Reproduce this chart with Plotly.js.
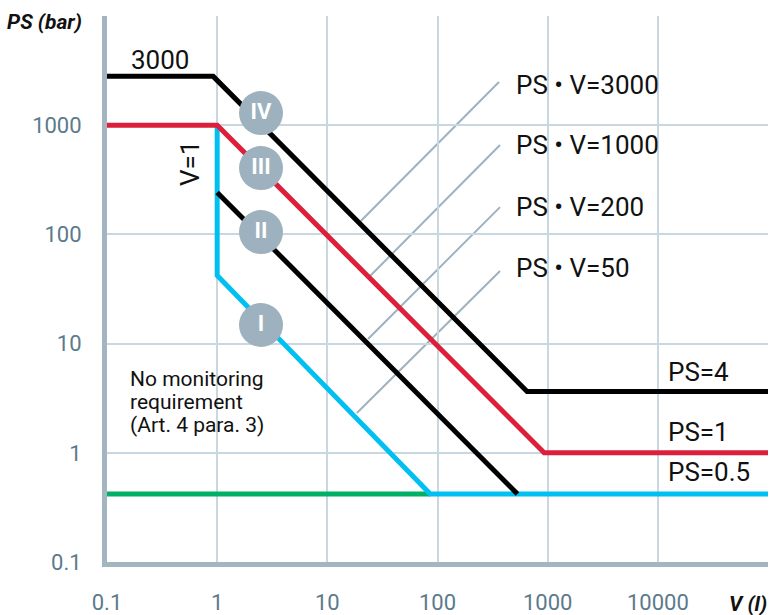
<!DOCTYPE html>
<html>
<head>
<meta charset="utf-8">
<script src="https://cdn.plot.ly/plotly-3.0.1.min.js"></script>
<style>
  html, body { margin: 0; padding: 0; background: #ffffff; }
  #chart { width: 769px; height: 615px; }
</style>
</head>
<body>
<div id="chart"></div>
<script>
// ---- data (V in litres, PS in bar) ----
const catIV_V  = [0.1, 0.92, 650, 100000];
const catIV_PS = [2800, 2800, 3.65, 3.65];

const catIII_V  = [0.1, 1, 930, 100000];
const catIII_PS = [1000, 1000, 1, 1];

const catII_V  = [1, 532];
const catII_PS = [242, 0.42];

const catI_V  = [1, 1, 86, 100000];
const catI_PS = [1000, 42, 0.42, 0.42];

const noMon_V  = [0.1, 86];
const noMon_PS = [0.42, 0.42];

const circleV      = [2.5, 2.5, 2.5, 2.5];
const circlePS     = [1290, 405, 105, 14.8];
const circleLabels = ["IV", "III", "II", "I"];

const xTickVals = [0.1, 1, 10, 100, 1000, 10000, 100000];
const xTickText = ["0.1", "1", "10", "100", "1000", "10000", ""];
const yTickVals = [0.1, 1, 10, 100, 1000, 10000];
const yTickText = ["0.1", "1", "10", "100", "1000", ""];

const productLabels = ["PS \u2022 V=3000", "PS \u2022 V=1000", "PS \u2022 V=200", "PS \u2022 V=50"];
const limitLabels   = ["PS=4", "PS=1", "PS=0.5"];

// ---- styling ----
const FONT = "Roboto, 'Noto Sans', sans-serif";
const GRID = "#c9d7e0";
const AXIS = "#a3b5c1";
const TICK = "#5b7a8b";
const LW = 5;

function line(x, y, color) {
  return { type: "scatter", mode: "lines", x: x, y: y,
           line: { color: color, width: LW, shape: "linear" },
           hoverinfo: "skip", showlegend: false };
}

const traces = [
  line(noMon_V, noMon_PS, "#00b067"),
  line(catI_V, catI_PS, "#00c0f2"),
  line(catII_V, catII_PS, "#000000"),
  line(catIII_V, catIII_PS, "#dc1f3b"),
  line(catIV_V, catIV_PS, "#000000"),
  { type: "scatter", mode: "markers+text", x: circleV, y: circlePS, text: circleLabels,
    textposition: "middle center",
    marker: { size: 44, color: "#9db1be", line: { width: 0 } },
    textfont: { family: FONT, size: 22, color: "#ffffff", weight: "bold" },
    hoverinfo: "skip", showlegend: false }
];

// positions in paper coords
const prodY = [0.8736, 0.7637, 0.650, 0.538];
const limY  = [0.348, 0.238, 0.165];
const leaders = [
  [0.593, 0.879, 0.384, 0.6245],
  [0.5946, 0.7637, 0.398, 0.5238],
  [0.5946, 0.650, 0.3949, 0.4084],
  [0.5946, 0.533, 0.378, 0.273]
];

const shapes = [
  { type: "rect", xref: "paper", yref: "paper", x0: 0.593, x1: 0.874, y0: 0.452, y1: 0.9615,
    fillcolor: "#ffffff", line: { width: 0 }, layer: "between" }
];
leaders.forEach(l => shapes.push({
  type: "line", xref: "paper", yref: "paper", x0: l[0], y0: l[1], x1: l[2], y1: l[3],
  line: { color: "#9fb2bf", width: 2 }, layer: "between"
}));

const annotations = [];
function ann(text, x, y, opts) {
  annotations.push(Object.assign({
    text: text, x: x, y: y, xref: "paper", yref: "paper", showarrow: false,
    xanchor: "left", yanchor: "middle",
    font: { family: FONT, size: 26, color: "#111111" }
  }, opts || {}));
}
productLabels.forEach((t, i) => ann(t, 0.616, prodY[i]));
limitLabels.forEach((t, i) => ann(t, 0.846, limY[i]));
ann("3000", 0.0802, 0.919, { xanchor: "center" });
ann("V=1", 0.1256, 0.729, { xanchor: "center", textangle: -90 });
const small = { family: FONT, size: 21, color: "#111111" };
ann("No monitoring", 0.0318, 0.335, { font: small });
ann("requirement", 0.0318, 0.293, { font: small });
ann("(Art. 4 para. 3)", 0.0318, 0.251, { font: small });
ann("PS (bar)", -0.035, 0.989, { xanchor: "right",
    font: { family: FONT, size: 21, color: "#111111", weight: "bold", style: "italic" } });
ann("V (l)", 1.0015, -0.077, { xanchor: "right",
    font: { family: FONT, size: 21, color: "#111111", weight: "bold", style: "italic" } });

const layout = {
  width: 769, height: 615,
  margin: { l: 107, r: 1, t: 16, b: 53 },
  paper_bgcolor: "#ffffff", plot_bgcolor: "#ffffff",
  showlegend: false,
  xaxis: {
    type: "log", range: [-1, 5], tickvals: xTickVals, ticktext: xTickText,
    showgrid: true, gridcolor: GRID, gridwidth: 2, zeroline: false,
    showline: true, linecolor: AXIS, linewidth: 5,
    ticks: "", ticklabelstandoff: 17,
    tickfont: { family: FONT, size: 22, color: TICK }, fixedrange: true
  },
  yaxis: {
    type: "log", range: [-1, 4], tickvals: yTickVals, ticktext: yTickText,
    showgrid: true, gridcolor: GRID, gridwidth: 2, zeroline: false,
    showline: true, linecolor: AXIS, linewidth: 5,
    ticks: "", ticklabelstandoff: 16,
    tickfont: { family: FONT, size: 22, color: TICK }, fixedrange: true
  },
  shapes: shapes,
  annotations: annotations
};

Plotly.newPlot("chart", traces, layout, { displayModeBar: false, staticPlot: true });
</script>
</body>
</html>
